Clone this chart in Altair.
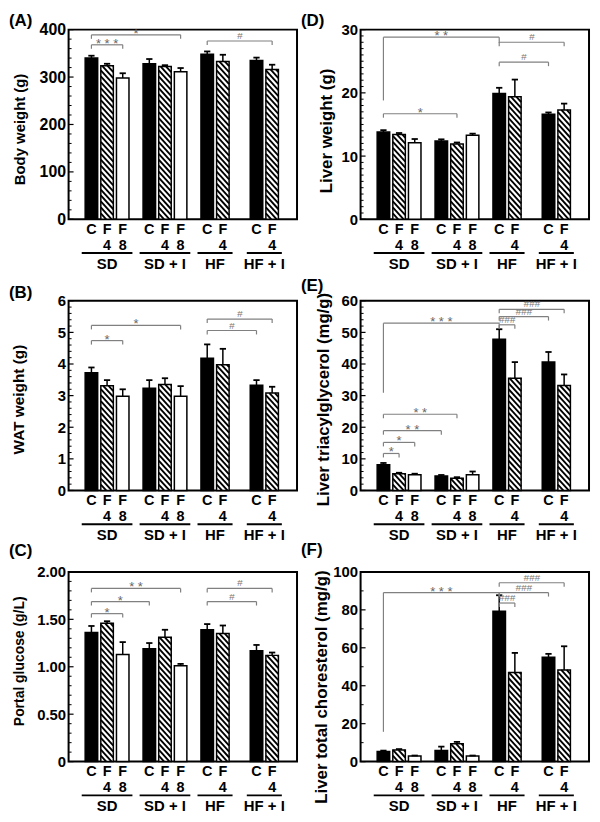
import altair as alt
import pandas as pd

FONT = "Liberation Sans"

# ---------------- data ----------------
groups = ["SD", "SD + I", "HF", "HF + I"]
bar_group = [0, 0, 0, 1, 1, 1, 2, 2, 3, 3]
bar_slot = [0, 1, 2, 0, 1, 2, 0, 1, 0, 1]
bar_treat = ["C", "F4", "F8", "C", "F4", "F8", "C", "F4", "C", "F4"]
label_top = ["C", "F", "F", "C", "F", "F", "C", "F", "C", "F"]
label_bottom = ["", "4", "8", "", "4", "8", "", "4", "", "4"]

body_mean = [340, 324, 298, 328, 322, 311, 348, 333, 335, 316]
body_err = [5, 4, 10, 10, 3, 8, 6, 14, 6, 10]
body_brackets = [(0, 5, 389, "*"), (0, 2, 368, "* * *"), (6, 9, 376, "#")]

wat_mean = [3.72, 3.31, 2.98, 3.23, 3.35, 2.98, 4.18, 3.98, 3.33, 3.08]
wat_err = [0.17, 0.18, 0.22, 0.26, 0.2, 0.32, 0.44, 0.5, 0.16, 0.2]
wat_brackets = [(0, 5, 5.22, "*"), (0, 2, 4.74, "*"), (6, 9, 5.42, "#"), (6, 8, 5.06, "#")]

glu_mean = [1.36, 1.46, 1.13, 1.19, 1.31, 1.01, 1.39, 1.35, 1.17, 1.12]
glu_err = [0.07, 0.02, 0.13, 0.06, 0.08, 0.02, 0.06, 0.085, 0.06, 0.03]
glu_brackets = [(0, 5, 1.826, "* *"), (0, 3, 1.6875, "*"), (0, 2, 1.56, "*"),
                (6, 9, 1.826, "#"), (6, 8, 1.6875, "#")]

liver_mean = [13.8, 13.4, 12.1, 12.4, 11.9, 13.3, 19.9, 19.4, 16.6, 17.3]
liver_err = [0.3, 0.25, 0.6, 0.25, 0.25, 0.25, 0.9, 2.7, 0.3, 1.0]
liver_brackets = [(0, 6, 28.8, "* *", 18.8, 27.9), (0, 4, 16.7, "*"),
                  (6, 9, 28.0, "#"), (6, 8, 24.85, "#")]

tg_mean = [8.1, 5.3, 5.0, 4.6, 3.9, 5.0, 47.8, 35.5, 40.6, 33.2]
tg_err = [0.6, 0.3, 0.3, 0.3, 0.3, 1.0, 3.2, 5.1, 3.2, 3.5]
tg_brackets = [(0, 6, 52.9, "* * *", 30.9, 51.3), (6, 9, 57.3, "###"), (6, 8, 55.0, "###"),
               (6, 7, 52.4, "###"), (0, 4, 24.1, "* *"), (0, 3, 18.9, "* *"),
               (0, 2, 15.2, "*"), (0, 1, 11.7, "*")]

chol_mean = [5.3, 6.1, 3.0, 5.9, 9.4, 3.0, 79.2, 47.0, 55.0, 48.3]
chol_err = [0.5, 0.5, 0.2, 2.0, 1.0, 0.2, 8.5, 10.3, 1.8, 12.5]
chol_brackets = [(0, 6, 89.1, "* * *", 15.7, 86.5), (6, 9, 94.3, "###"),
                 (6, 8, 89.1, "###"), (6, 7, 83.6, "###")]

# ---------------- layout ----------------
W = 230
H = 191
GROUP_OFFSET = [0, 3.7, 7.4, 10.55]
X_DOMAIN = [-1.46, 13.14]
BAR_HALF = 0.4
CAP_HALF = 0.2
LEG_PX = 4
GRAY = "#808080"

panels = {
    "A": dict(label="(A)", ytitle="Body weight (g)", mean=body_mean, err=body_err,
              br=body_brackets, ymax=400, major=100, minor=20, fmt="d",
              tx=-41, ty=4.5, tfs=15, lfs=16, ly=-9),
    "B": dict(label="(B)", ytitle="WAT weight (g)", mean=wat_mean, err=wat_err,
              br=wat_brackets, ymax=6, major=1, minor=0.2, fmt="d",
              tx=-42, ty=3.5, tfs=15.5, lfs=15, ly=-8),
    "C": dict(label="(C)", ytitle="Portal glucose (g/L)", mean=glu_mean, err=glu_err,
              br=glu_brackets, ymax=2, major=0.5, minor=0.1, fmt="2f",
              tx=-42, ty=-6, tfs=14, lfs=15, ly=-21),
    "D": dict(label="(D)", ytitle="Liver weight (g)", mean=liver_mean, err=liver_err,
              br=liver_brackets, ymax=30, major=10, minor=1, fmt="d",
              tx=-25, ty=6, tfs=17, lfs=15, ly=-9),
    "E": dict(label="(E)", ytitle="Liver triacylglycerol (mg/g)", mean=tg_mean, err=tg_err,
              br=tg_brackets, ymax=60, major=10, minor=2, fmt="d",
              tx=-28, ty=3.5, tfs=16.8, lfs=15, ly=-15),
    "F": dict(label="(F)", ytitle="Liver total choresterol (mg/g)", mean=chol_mean, err=chol_err,
              br=chol_brackets, ymax=100, major=20, minor=10, fmt="d",
              tx=-30, ty=20, tfs=17, lfs=15, ly=-22),
}


def hatch_segments(xl, xr, yt, yb, spacing=6.0, slope=1.1):
    out = []
    w = xr - xl
    c = yb
    while c > yt - slope * w:
        xs_ = max(xl, xl + (yt - c) / slope)
        xe_ = min(xr, xl + (yb - c) / slope)
        if xe_ > xs_:
            out.append((xs_, c + slope * (xs_ - xl), xe_, c + slope * (xe_ - xl)))
        c -= spacing
    return out


def build_panel(p):
    xd0, xd1 = X_DOMAIN
    sx = W / (xd1 - xd0)
    sy = H / p["ymax"]
    pos = [GROUP_OFFSET[g] + s for g, s in zip(bar_group, bar_slot)]
    bars = pd.DataFrame({
        "pos": pos,
        "left": [q - BAR_HALF for q in pos],
        "right": [q + BAR_HALF for q in pos],
        "capl": [q - CAP_HALF for q in pos],
        "capr": [q + CAP_HALF for q in pos],
        "zero": 0.0,
        "mean": p["mean"],
        "top": [m + e for m, e in zip(p["mean"], p["err"])],
        "treat": bar_treat,
        "lab1": label_top,
        "lab2": label_bottom,
    })

    xs = alt.Scale(domain=X_DOMAIN, nice=False, zero=False)
    ys = alt.Scale(domain=[0, p["ymax"]], nice=False, zero=True)
    n_major = int(round(p["ymax"] / p["major"]))
    major = [round(k * p["major"], 6) for k in range(n_major + 1)]
    n_minor = int(round(p["ymax"] / p["minor"]))
    minor = [round(k * p["minor"], 6) for k in range(n_minor + 1)]
    minor = [v for v in minor if all(abs(v - m) > 1e-9 for m in major)]
    if p["fmt"] == "2f":
        lexpr = "datum.value == 0 ? '0' : format(datum.value, '.2f')"
    else:
        lexpr = "format(datum.value, 'd')"
    yaxis = alt.Axis(values=major, labelExpr=lexpr, title=p["ytitle"], ticks=False,
                     domain=False, grid=False, labelPadding=3, labelFont=FONT,
                     labelFontSize=p["lfs"], labelFontWeight="bold", labelColor="black",
                     titleFont=FONT, titleFontSize=p["tfs"], titleFontWeight="bold",
                     titleColor="black", titleX=p["tx"], titleY=H / 2 + p["ty"])
    X = lambda f: alt.X(f, scale=xs, axis=None)
    Y = lambda f: alt.Y(f, scale=ys, axis=yaxis)

    base = alt.Chart(bars)
    fill = base.mark_rect().encode(
        x=X("left:Q"), x2="right:Q", y=Y("mean:Q"), y2="zero:Q",
        fill=alt.Fill("treat:N", scale=alt.Scale(domain=["C", "F4", "F8"],
                                                 range=["black", "white", "white"]),
                      legend=None))

    segs = []
    for k, t in enumerate(bar_treat):
        if t != "F4":
            continue
        xl = (pos[k] - BAR_HALF - xd0) * sx
        xr = (pos[k] + BAR_HALF - xd0) * sx
        yt = H - p["mean"][k] * sy
        for a, b, c, d in hatch_segments(xl, xr, yt, H):
            segs.append(dict(x1=xd0 + a / sx, y1=(H - b) / sy, x2=xd0 + c / sx, y2=(H - d) / sy))
    stripes = alt.Chart(pd.DataFrame(segs)).mark_rule(
        color="black", strokeWidth=1.9, strokeCap="butt").encode(
        x=X("x1:Q"), x2="x2:Q", y=Y("y1:Q"), y2="y2:Q")

    outline = base.mark_rect(fill="transparent", stroke="black", strokeWidth=1.5).encode(
        x=X("left:Q"), x2="right:Q", y=Y("mean:Q"), y2="zero:Q")
    err_v = base.mark_rule(color="black", strokeWidth=1.5).encode(
        x=X("pos:Q"), y=Y("mean:Q"), y2="top:Q")
    err_c = base.mark_rule(color="black", strokeWidth=1.8).encode(
        x=X("capl:Q"), x2="capr:Q", y=Y("top:Q"))

    tick_maj = alt.Chart(pd.DataFrame({"v": major})).mark_rule(
        color="black", strokeWidth=1.2).encode(x=alt.value(0), x2=alt.value(5), y=Y("v:Q"))
    tick_min = alt.Chart(pd.DataFrame({"v": minor})).mark_rule(
        color="black", strokeWidth=1).encode(x=alt.value(0), x2=alt.value(3), y=Y("v:Q"))

    leg = LEG_PX / sy
    brs, labs = [], []
    for b in p["br"]:
        i, j, lev, txt = b[:4]
        lb = b[4] if len(b) > 4 else lev - leg
        rb = b[5] if len(b) > 5 else lev - leg
        brs.append(dict(x1=pos[i], x2=pos[j], y1=lev, y2=lev))
        brs.append(dict(x1=pos[i], x2=pos[i], y1=lev, y2=lb))
        brs.append(dict(x1=pos[j], x2=pos[j], y1=lev, y2=rb))
        labs.append(dict(x=(pos[i] + pos[j]) / 2, y=lev, t=txt,
                         kind="hash" if "#" in txt else "star"))
    br_rules = alt.Chart(pd.DataFrame(brs)).mark_rule(color=GRAY, strokeWidth=1.2).encode(
        x=X("x1:Q"), x2="x2:Q", y=Y("y1:Q"), y2="y2:Q")
    labdf = pd.DataFrame(labs)
    star = alt.Chart(labdf).transform_filter("datum.kind == 'star'").mark_text(
        font=FONT, fontSize=13, color="#666666", baseline="middle", dy=-1).encode(
        x=X("x:Q"), y=Y("y:Q"), text="t:N")
    hsh = alt.Chart(labdf).transform_filter("datum.kind == 'hash'").mark_text(
        font=FONT, fontSize=10, fontStyle="italic", color="#777777", baseline="middle",
        dy=-5).encode(x=X("x:Q"), y=Y("y:Q"), text="t:N")

    lab1 = base.mark_text(font=FONT, fontSize=14.5, fontWeight="bold", color="black",
                          baseline="middle").encode(
        x=X("pos:Q"), y=alt.value(H + 10.5), text="lab1:N")
    lab2 = base.mark_text(font=FONT, fontSize=14.5, fontWeight="bold", color="black",
                          baseline="middle").encode(
        x=X("pos:Q"), y=alt.value(H + 26.5), text="lab2:N")

    gdf = pd.DataFrame({
        "name": groups,
        "g1": [min(q for q, g in zip(pos, bar_group) if g == k) - 0.62 for k in range(4)],
        "g2": [max(q for q, g in zip(pos, bar_group) if g == k) + 0.62 for k in range(4)],
    })
    gdf["mid"] = (gdf["g1"] + gdf["g2"]) / 2
    grule = alt.Chart(gdf).mark_rule(color="black", strokeWidth=2).encode(
        x=X("g1:Q"), x2="g2:Q", y=alt.value(H + 34))
    glab = alt.Chart(gdf).mark_text(font=FONT, fontSize=15, fontWeight="bold", color="black",
                                    baseline="middle").encode(
        x=X("mid:Q"), y=alt.value(H + 45), text="name:N")

    plabel = alt.Chart(pd.DataFrame({"t": [p["label"]]})).mark_text(
        font=FONT, fontSize=17, fontWeight="bold", color="black", align="left",
        baseline="middle").encode(x=alt.value(-60), y=alt.value(p["ly"]), text="t:N")

    return alt.layer(fill, stripes, outline, err_v, err_c, tick_maj, tick_min, br_rules,
                     star, hsh, lab1, lab2, grule, glab, plabel).properties(width=W, height=H)


order = ["A", "D", "B", "E", "C", "F"]
chart = alt.concat(*[build_panel(panels[k]) for k in order], columns=2,
                   spacing=alt.RowColnumber(row=82, column=64), bounds="flush").properties(
    padding={"left": 0, "top": 0, "right": 2, "bottom": 0}, background="white"
).configure_view(stroke="black", strokeWidth=2)

chart.save("out.html", embed_options={"renderer": "svg", "actions": False})
